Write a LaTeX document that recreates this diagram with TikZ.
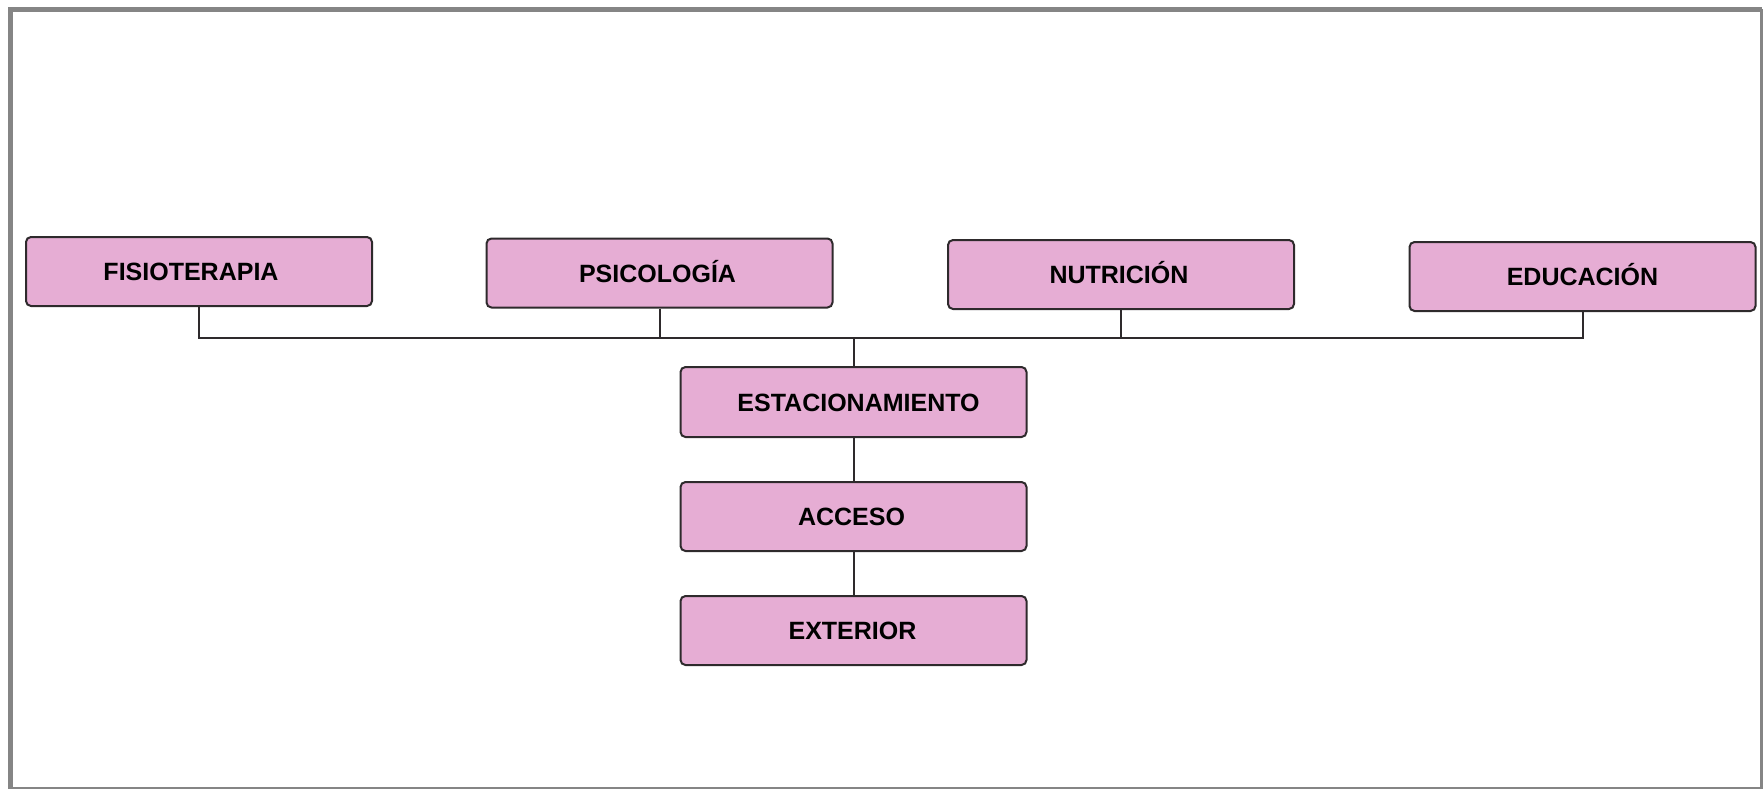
\documentclass[tikz,border=0pt]{standalone}
\usepackage{fontspec}
\setmainfont{Liberation Sans}
\definecolor{boxfill}{HTML}{E6ADD4}
\definecolor{boxline}{HTML}{2E2A2C}
\definecolor{framegray}{HTML}{858585}
\begin{document}
\begin{tikzpicture}[x=1pt,y=-1pt,
  unit/.style={draw=boxline, line width=2pt, fill=boxfill, rounded corners=5pt,
    minimum width=346pt, minimum height=69pt, inner sep=0pt,
    font=\fontsize{25}{30}\selectfont\bfseries, text height=18pt, text depth=0pt},
  link/.style={draw=boxline, line width=2pt},
  frameline/.style={draw=framegray}]
\useasboundingbox (0,0) rectangle (1764,789);
% frame
\draw[frameline, line width=5pt] (10.5,789) -- (10.5,9.5) -- (1762,9.5);
\draw[frameline, line width=3pt] (1761.5,9.5) -- (1761.5,789);
\draw[frameline, line width=2pt] (10.5,787.5) -- (1763,787.5);
% nodes
\node[unit] (fis) at (199,271.5) {\hspace*{-16pt}FISIOTERAPIA};
\node[unit] (psi) at (659.5,273) {\hspace*{-4pt}PSICOLOGÍA};
\node[unit] (nut) at (1121,274.5) {\hspace*{-4pt}NUTRICIÓN};
\node[unit] (edu) at (1582.5,276.5) {EDUCACIÓN};
\node[unit, minimum height=70pt] (est) at (853.5,402) {ESTACIONAMIENTO\hspace*{-10pt}};
\node[unit] (acc) at (853.5,516.5) {\hspace*{-4pt}ACCESO};
\node[unit] (ext) at (853.5,630.5) {\hspace*{-2pt}EXTERIOR};
\coordinate (bus) at (853.5,337.5);
% connectors
\draw[link] (fis.south) |- (bus) -| (edu.south);
\draw[link] (psi.south) -- (psi.south |- bus);
\draw[link] (nut.south) -- (nut.south |- bus);
\draw[link] (bus) -- (est.north);
\draw[link] (est.south) -- (acc.north);
\draw[link] (acc.south) -- (ext.north);
\end{tikzpicture}
\end{document}
